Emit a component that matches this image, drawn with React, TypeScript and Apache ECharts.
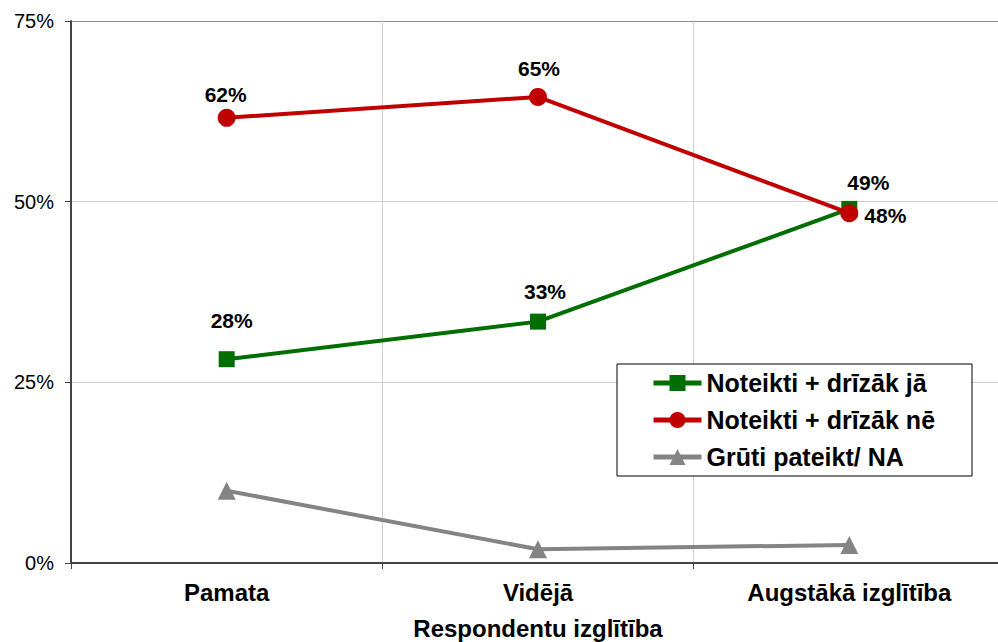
import React, { useEffect, useRef } from "react";
import * as echarts from "echarts";

const categories = ["Pamata", "Vidējā", "Augstākā izglītība"];
const seriesNames = ["Noteikti + drīzāk jā", "Noteikti + drīzāk nē", "Grūti pateikt/ NA"];
const yesValues = [28.2, 33.4, 49.0];
const noValues = [61.6, 64.5, 48.4];
const naValues = [10.0, 1.9, 2.5];
const yTicks = [0, 25, 50, 75];
const axisTitle = "Respondentu izglītība";

const yesLabelOffsets: number[][] = [[5, -39], [7, -30], [19, -26]];
const noLabelOffsets: number[][] = [[-1, -23], [1, -28], [36, 2]];

const FONT = "Liberation Sans, Arial, sans-serif";

export default function App() {
  const ref = useRef<HTMLDivElement>(null);
  useEffect(() => {
    if (!ref.current) return;
    const chart = echarts.init(ref.current, null, { renderer: "svg" });
    const mkData = (vals: number[], offs: number[][] | null) =>
      vals.map((v, i) => ({
        value: v,
        label: offs
          ? {
              show: true,
              position: "inside",
              offset: offs[i],
              formatter: Math.round(v) + "%",
              color: "#000",
              fontWeight: "bold",
              fontSize: 21,
              fontFamily: FONT,
            }
          : { show: false },
      }));
    chart.setOption({
      animation: false,
      backgroundColor: "#fff",
      textStyle: { fontFamily: FONT },
      grid: { left: 71, top: 21, right: -7, bottom: 79, containLabel: false, outerBoundsMode: "none" },
      xAxis: {
        type: "category",
        data: categories,
        boundaryGap: true,
        axisLine: { show: true, lineStyle: { color: "#444", width: 2 } },
        axisTick: { show: true, length: 6, lineStyle: { color: "#444", width: 1 } },
        splitLine: { show: true, lineStyle: { color: "#d0d0d0", width: 1 } },
        axisLabel: { color: "#000", fontWeight: "bold", fontSize: 24, margin: 17, fontFamily: FONT },
        name: axisTitle,
        nameLocation: "middle",
        nameGap: 53,
        nameTextStyle: { color: "#000", fontWeight: "bold", fontSize: 24, fontFamily: FONT },
      },
      yAxis: {
        type: "value",
        min: yTicks[0],
        max: yTicks[yTicks.length - 1],
        interval: 25,
        axisLine: { show: true, lineStyle: { color: "#444", width: 2 } },
        axisTick: { show: true, length: 6, lineStyle: { color: "#444", width: 1 } },
        splitLine: {
          show: true,
          lineStyle: { color: ["#d0d0d0", "#d0d0d0", "#d0d0d0", "#8c8c8c"], width: 1 },
        },
        axisLabel: { color: "#000", fontSize: 20, margin: 17, formatter: "{value}%", fontFamily: FONT },
      },
      legend: {
        orient: "vertical",
        left: 651,
        top: 369,
        padding: 0,
        z: 20,
        itemWidth: 48,
        itemHeight: 20,
        itemGap: 9,
        data: seriesNames,
        lineStyle: { width: 5 },
        textStyle: { color: "#000", fontWeight: "bold", fontSize: 25, lineHeight: 28, fontFamily: FONT },
      },
      graphic: [
        {
          type: "rect",
          z: 10,
          shape: { x: 617, y: 364, width: 355, height: 112 },
          style: { fill: "#fff", stroke: "#000", lineWidth: 1 },
        },
      ],
      series: [
        {
          name: seriesNames[0],
          type: "line",
          data: mkData(yesValues, yesLabelOffsets),
          symbol: "rect",
          symbolSize: 16,
          color: "#006e00",
          lineStyle: { width: 4, color: "#006e00" },
          itemStyle: { color: "#006e00" },
          z: 3,
        },
        {
          name: seriesNames[1],
          type: "line",
          data: mkData(noValues, noLabelOffsets),
          symbol: "circle",
          symbolSize: 18,
          color: "#c00000",
          lineStyle: { width: 4, color: "#c00000" },
          itemStyle: { color: "#c00000" },
          z: 4,
        },
        {
          name: seriesNames[2],
          type: "line",
          data: mkData(naValues, null),
          symbol: "triangle",
          symbolSize: 18,
          color: "#848484",
          lineStyle: { width: 4, color: "#848484" },
          itemStyle: { color: "#848484" },
          z: 3,
        },
      ],
    });
    return () => chart.dispose();
  }, []);
  return <div ref={ref} style={{ width: 998, height: 642, position: "absolute", left: 0, top: 0 }} />;
}
